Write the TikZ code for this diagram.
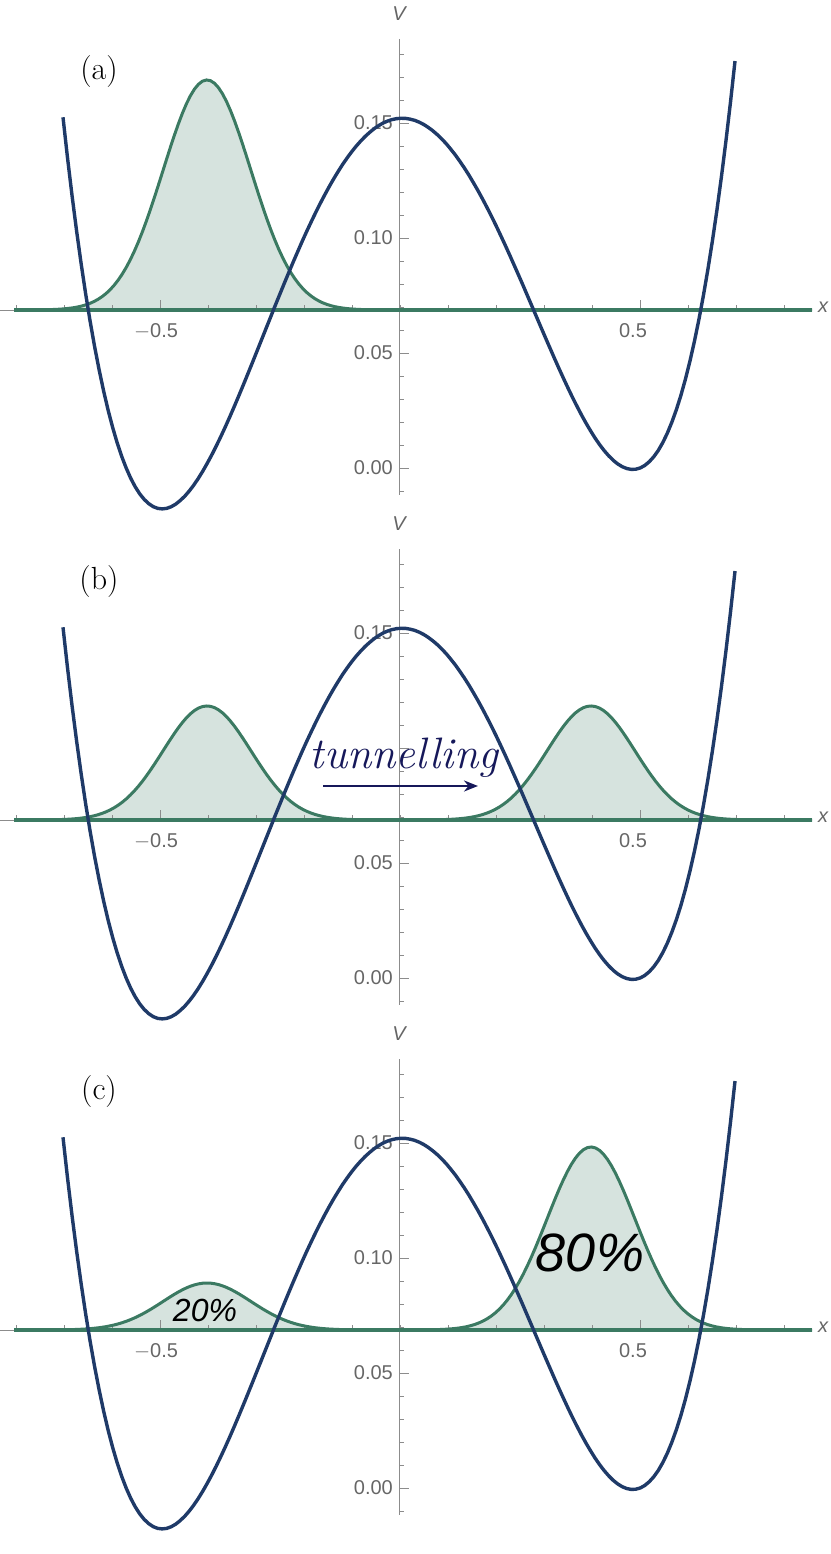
\documentclass[tikz,border=0pt]{standalone}
\usepackage{fontspec}
\setsansfont{Liberation Sans}
\usetikzlibrary{arrows.meta}
\definecolor{pot}{HTML}{1F3A68}
\definecolor{gr}{HTML}{3B7A62}
\definecolor{grf}{HTML}{D6E3DE}
\definecolor{ax}{HTML}{8C8C8C}
\definecolor{lbl}{HTML}{666666}
\definecolor{tun}{HTML}{16185A}
\tikzset{axis/.style={ax,line width=0.9pt},
 tlab/.style={font=\sffamily\fontsize{20}{20}\selectfont,text=lbl,inner sep=0pt},
 potline/.style={pot,line width=3.4pt},
 gline/.style={gr,line width=3pt}}
\begin{document}
\begin{tikzpicture}[x=1pt,y=-1pt]
\useasboundingbox (0,0) rectangle (830,1554);
\foreach \o/\hl/\hr/\lab in {0/230/0/a,510/114/114/b,1020/47/183/c}{
 \begin{scope}[yshift=-\o pt]
 \fill[grf] plot[domain=14:812,samples=200] (\x,{310-\hl*exp(-((\x-207)/62.2)^2)-\hr*exp(-((\x-591)/62.2)^2)}) -- (812,310) -- (14,310) -- cycle;
 \draw[axis] (0,310) -- (812,310);
 \draw[axis] (399,39) -- (399,495);
 \foreach \k in {-1,...,18}{
   \pgfmathsetmacro\tl{mod(\k,5)==0?10:5}
   \draw[axis] (399,468-23*\k) -- ++(\tl,0);}
 \foreach \i in {0,...,16}{
   \pgfmathsetmacro\tl{(\i==3||\i==13)?10:5}
   \draw[axis] (16+48*\i,310) -- ++(0,-\tl);}
 \node[tlab,anchor=east] (l000\lab) at (393,468) {0.00};
 \node[tlab,anchor=east] (l005\lab) at (393,353) {0.05};
 \ifnum\o=510\else\node[tlab,anchor=east] (l010\lab) at (393,238) {0.10};\fi
 \node[tlab,anchor=east] (l015\lab) at (393,123) {0.15};
 \node[tlab] (lm5\lab) at (156,331) {$-$0.5};
 \node[tlab] (lp5\lab) at (633,331) {0.5};
 \node[tlab,font=\sffamily\itshape\fontsize{20}{20}\selectfont] (V\lab) at (399,14) {V};
 \node[tlab,font=\sffamily\itshape\fontsize{20}{20}\selectfont] (X\lab) at (823,307) {x};
 \node[inner sep=0pt,font=\fontsize{32}{32}\selectfont] (P\lab) at (99,72) {(\lab)};
 \draw[gline] plot[domain=14:812,samples=200] (\x,{310-\hl*exp(-((\x-207)/62.2)^2)-\hr*exp(-((\x-591)/62.2)^2)});
 \draw[gr,line width=4pt] (14,310) -- (812,310);
 \draw[potline] plot[domain=63:735,samples=150] (\x,{468-2300*(2.79*((\x-399)/480)^4-1.341*((\x-399)/480)^2+0.0175*((\x-399)/480)+0.152)});
 \end{scope}}
\node[text=tun,font=\itshape\fontsize{44}{44}\selectfont,inner sep=0pt] (tn) at (404,758) {tunnelling};
\coordinate (ta) at (323,786);
\coordinate (tb) at (478,786);
\draw[tun,line width=2.4pt,-{Stealth[length=14pt,width=11pt]}] (ta) -- (tb);
\node[font=\sffamily\itshape\fontsize{32}{32}\selectfont,inner sep=0pt] (p20) at (205,1310) {20\%};
\node[font=\sffamily\itshape\fontsize{54}{54}\selectfont,inner sep=0pt] (p80) at (590,1253) {80\%};
\end{tikzpicture}
\end{document}
